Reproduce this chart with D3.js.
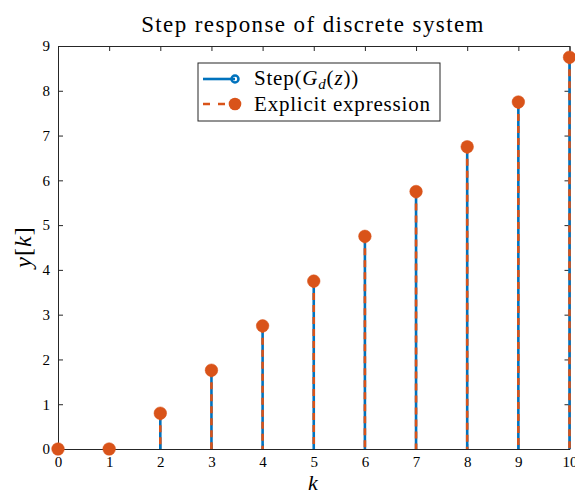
<!DOCTYPE html>
<html>
<head>
  <meta charset='utf-8'>
  <title>Step response of discrete system</title>
  <script src='https://cdn.jsdelivr.net/npm/d3@7/dist/d3.min.js'></script>
  <style type='text/css'>
    body { margin: 0; background: #fff; }
    svg text { font-family: 'Liberation Serif', 'DejaVu Serif', serif; fill: #000; }
  </style>
</head>
<body>
  <div id='plot-container'></div>
  <script>
    // sample index and response values
    const kValues = [0, 1, 2, 3, 4, 5, 6, 7, 8, 9, 10];
    const stepValues = [0, 0, 0.8, 1.76, 2.75, 3.75, 4.75, 5.75, 6.75, 7.75, 8.75];
    const explicitValues = [0, 0, 0.8, 1.76, 2.75, 3.75, 4.75, 5.75, 6.75, 7.75, 8.75];
    const xTicks = [0, 1, 2, 3, 4, 5, 6, 7, 8, 9, 10];
    const yTicks = [0, 1, 2, 3, 4, 5, 6, 7, 8, 9];

    const blue = '#0072BD';
    const orange = '#D95319';
    const axisColor = '#262626';

    const width = 575, height = 497;
    const margin = { top: 46, right: 6, bottom: 48, left: 58 };
    const innerW = 569.5 - margin.left;
    const innerH = 449 - margin.top;

    const svg = d3.select('#plot-container').append('svg')
        .attr('width', width)
        .attr('height', height);

    const g = svg.append('g')
        .attr('transform', `translate(${margin.left}, ${margin.top})`);

    const x = d3.scaleLinear().domain([0, 10]).range([0, innerW]);
    const y = d3.scaleLinear().domain([0, 9]).range([innerH, 0]);

    // axes with inward ticks
    const xAxis = g.append('g')
        .attr('transform', `translate(0, ${innerH})`)
        .call(d3.axisBottom(x).tickValues(xTicks).tickSizeInner(-5).tickSizeOuter(0).tickPadding(7));
    const yAxis = g.append('g')
        .call(d3.axisLeft(y).tickValues(yTicks).tickSizeInner(-5).tickSizeOuter(0).tickPadding(8));
    const xTop = g.append('g')
        .call(d3.axisTop(x).tickValues(xTicks).tickSizeInner(-5).tickSizeOuter(0).tickFormat(''));
    const yRight = g.append('g')
        .attr('transform', `translate(${innerW}, 0)`)
        .call(d3.axisRight(y).tickValues(yTicks).tickSizeInner(-5).tickSizeOuter(0).tickFormat(''));

    [xAxis, yAxis, xTop, yRight].forEach(a => {
        a.select('.domain').attr('stroke', axisColor).attr('stroke-width', 1);
        a.selectAll('.tick line').attr('stroke', axisColor);
        a.selectAll('.tick text')
            .attr('font-family', "'Liberation Serif', serif")
            .attr('font-size', 15)
            .attr('fill', '#262626');
    });

    const stepData = kValues.map((k, i) => ({ k: k, v: stepValues[i] }));
    const explicitData = kValues.map((k, i) => ({ k: k, v: explicitValues[i] }));

    // step stems (solid blue) with open markers
    g.selectAll('.stem-step')
        .data(stepData)
        .enter().append('line')
        .attr('class', 'stem-step')
        .attr('x1', d => x(d.k)).attr('x2', d => x(d.k))
        .attr('y1', y(0)).attr('y2', d => y(d.v))
        .attr('stroke', blue)
        .attr('stroke-width', 2.6);
    g.selectAll('.dot-step')
        .data(stepData)
        .enter().append('circle')
        .attr('class', 'dot-step')
        .attr('cx', d => x(d.k)).attr('cy', d => y(d.v))
        .attr('r', 4)
        .attr('fill', 'none')
        .attr('stroke', blue)
        .attr('stroke-width', 2.5);

    // explicit expression stems (dashed orange) with filled markers
    g.selectAll('.stem-exp')
        .data(explicitData)
        .enter().append('line')
        .attr('class', 'stem-exp')
        .attr('x1', d => x(d.k)).attr('x2', d => x(d.k))
        .attr('y1', d => y(d.v)).attr('y2', y(0))
        .attr('stroke', orange)
        .attr('stroke-width', 2.6)
        .attr('stroke-dasharray', '7,5');
    g.selectAll('.dot-exp')
        .data(explicitData)
        .enter().append('circle')
        .attr('class', 'dot-exp')
        .attr('cx', d => x(d.k)).attr('cy', d => y(d.v))
        .attr('r', 6.3)
        .attr('fill', orange)
        .attr('stroke', orange)
        .attr('stroke-width', 0.5);

    // title and axis labels
    svg.append('text')
        .attr('x', 313).attr('y', 32)
        .attr('text-anchor', 'middle')
        .attr('font-size', 23)
        .attr('letter-spacing', 1.4)
        .text('Step response of discrete system');
    svg.append('text')
        .attr('x', 313).attr('y', 490)
        .attr('text-anchor', 'middle')
        .attr('font-size', 22)
        .attr('font-style', 'italic')
        .text('k');
    const yLabel = svg.append('text')
        .attr('transform', 'translate(31, 247) rotate(-90)')
        .attr('text-anchor', 'middle')
        .attr('font-size', 24)
        .attr('letter-spacing', 1);
    yLabel.append('tspan').attr('font-style', 'italic').text('y');
    yLabel.append('tspan').text('[');
    yLabel.append('tspan').attr('font-style', 'italic').text('k');
    yLabel.append('tspan').text(']');

    // legend
    const legend = svg.append('g').attr('transform', 'translate(198, 63)');
    legend.append('rect')
        .attr('width', 242).attr('height', 58)
        .attr('fill', '#fff')
        .attr('stroke', axisColor)
        .attr('stroke-width', 1);
    legend.append('line')
        .attr('x1', 5).attr('x2', 37).attr('y1', 16).attr('y2', 16)
        .attr('stroke', blue).attr('stroke-width', 2.6);
    legend.append('circle')
        .attr('cx', 37).attr('cy', 16).attr('r', 3.5)
        .attr('fill', 'none').attr('stroke', blue).attr('stroke-width', 2.5);
    legend.append('line')
        .attr('x1', 5).attr('x2', 37).attr('y1', 41).attr('y2', 41)
        .attr('stroke', orange).attr('stroke-width', 2.6)
        .attr('stroke-dasharray', '7,8');
    legend.append('circle')
        .attr('cx', 37).attr('cy', 41).attr('r', 6.3)
        .attr('fill', orange);
    const l1 = legend.append('text')
        .attr('x', 56).attr('y', 22)
        .attr('font-size', 21)
        .attr('letter-spacing', 0.8);
    l1.append('tspan').text('Step(');
    l1.append('tspan').attr('font-style', 'italic').text('G');
    l1.append('tspan').attr('font-style', 'italic').attr('font-size', 15).attr('dy', 4).text('d');
    l1.append('tspan').attr('dy', -4).text('(');
    l1.append('tspan').attr('font-style', 'italic').text('z');
    l1.append('tspan').text('))');
    legend.append('text')
        .attr('x', 56).attr('y', 48)
        .attr('font-size', 21)
        .attr('letter-spacing', 0.8)
        .text('Explicit expression');
  </script>
</body>
</html>
